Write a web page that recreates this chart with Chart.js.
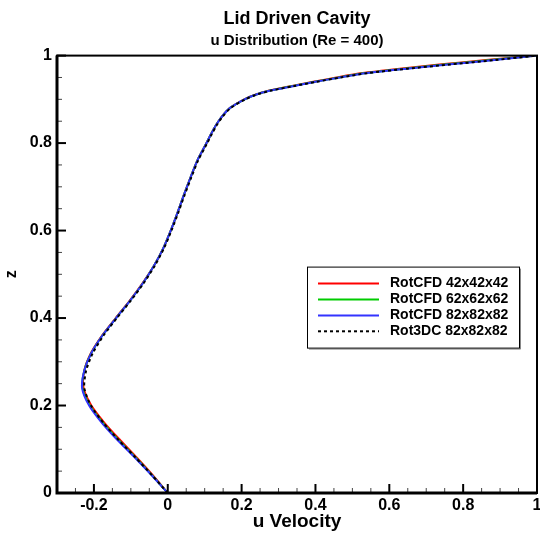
<!DOCTYPE html>
<html>
<head>
<meta charset="utf-8">
<title>Lid Driven Cavity</title>
<script src="https://cdn.jsdelivr.net/npm/chart.js@4.4.1/dist/chart.umd.min.js"></script>
<style>
  html, body { margin: 0; padding: 0; background: #fff; }
  #wrap { width: 540px; height: 540px; }
</style>
</head>
<body>
<div id="wrap"><canvas id="cavityChart"></canvas></div>
<script>
// z positions along the vertical centreline
const zValues = [0, 0.04, 0.08, 0.12, 0.16, 0.20, 0.24, 0.28, 0.32, 0.36, 0.40, 0.44, 0.48, 0.52, 0.56,
                 0.60, 0.64, 0.68, 0.72, 0.76, 0.80, 0.82, 0.84, 0.86, 0.88, 0.90, 0.91, 0.92, 0.93,
                 0.94, 0.95, 0.96, 0.97, 0.98, 0.99, 1];

// u velocity for each grid
const u42 = [0, -0.040, -0.083, -0.128, -0.171, -0.207, -0.228, -0.226, -0.208, -0.178, -0.141, -0.103, -0.068, -0.037, -0.012,
             0.008, 0.026, 0.043, 0.061, 0.080, 0.105, 0.117, 0.130, 0.146, 0.168, 0.207, 0.235, 0.275, 0.333,
             0.394, 0.457, 0.527, 0.628, 0.742, 0.862, 1];
const u62 = [0, -0.042, -0.086, -0.132, -0.175, -0.211, -0.231, -0.226, -0.207, -0.177, -0.140, -0.102, -0.067, -0.037, -0.012,
             0.008, 0.026, 0.043, 0.061, 0.080, 0.105, 0.117, 0.130, 0.146, 0.168, 0.208, 0.236, 0.277, 0.336,
             0.398, 0.463, 0.536, 0.640, 0.755, 0.875, 1];
const u82 = [0, -0.043, -0.088, -0.135, -0.178, -0.213, -0.232, -0.226, -0.207, -0.177, -0.140, -0.102, -0.067, -0.037, -0.012,
             0.008, 0.026, 0.043, 0.061, 0.080, 0.105, 0.117, 0.130, 0.146, 0.168, 0.208, 0.236, 0.278, 0.338,
             0.400, 0.466, 0.540, 0.647, 0.765, 0.885, 1];
const u3dc = [0, -0.042, -0.086, -0.132, -0.174, -0.208, -0.226, -0.221, -0.203, -0.174, -0.138, -0.100, -0.065, -0.035, -0.010,
              0.010, 0.028, 0.045, 0.063, 0.082, 0.107, 0.119, 0.132, 0.148, 0.170, 0.210, 0.238, 0.280, 0.340,
              0.402, 0.468, 0.542, 0.649, 0.768, 0.888, 1];

const seriesLabels = ['RotCFD 42x42x42', 'RotCFD 62x62x62', 'RotCFD 82x82x82', 'Rot3DC 82x82x82'];

const FONT = "'Liberation Sans', Arial, Helvetica, sans-serif";

function toPoints(u) {
    return zValues.map((z, i) => ({x: u[i], y: z}));
}

function isMajor(v) {
    const r = v / 0.2;
    return Math.abs(r - Math.round(r)) < 1e-6;
}

function tickText(v) {
    if (!isMajor(v)) return '';
    return String(Math.round(v * 10) / 10);
}

// frame, inward ticks and the boxed legend
const tecplotStyle = {
    id: 'tecplotStyle',
    afterDraw(chart) {
        const ctx = chart.ctx;
        const area = chart.chartArea;
        const xs = chart.scales.x;
        const ys = chart.scales.y;
        ctx.save();

        // ticks along bottom and left, pointing inward
        xs.ticks.forEach(t => {
            const px = xs.getPixelForValue(t.value);
            const major = isMajor(t.value);
            ctx.beginPath();
            ctx.strokeStyle = major ? '#000' : '#444';
            ctx.lineWidth = major ? 2 : 1;
            ctx.moveTo(px, area.bottom);
            ctx.lineTo(px, area.bottom - (major ? 9 : 5));
            ctx.stroke();
        });
        ys.ticks.forEach(t => {
            const py = ys.getPixelForValue(t.value);
            const major = isMajor(t.value);
            ctx.beginPath();
            ctx.strokeStyle = major ? '#000' : '#444';
            ctx.lineWidth = major ? 2 : 1;
            ctx.moveTo(area.left, py);
            ctx.lineTo(area.left + (major ? 9 : 5), py);
            ctx.stroke();
        });

        // frame
        ctx.strokeStyle = '#000';
        ctx.lineWidth = 2;
        ctx.strokeRect(area.left, area.top, area.right - area.left, area.bottom - area.top);
        ctx.lineWidth = 3;
        ctx.beginPath();
        ctx.moveTo(area.left, area.top);
        ctx.lineTo(area.left, area.bottom);
        ctx.lineTo(area.right, area.bottom);
        ctx.stroke();

        // legend box
        const bx = area.right - 230, by = area.top + 211, bw = 212, bh = 81;
        ctx.fillStyle = '#fff';
        ctx.fillRect(bx, by, bw, bh);
        ctx.strokeStyle = '#888';
        ctx.lineWidth = 1;
        ctx.beginPath();
        ctx.moveTo(bx + bw + 1.5, by + 2);
        ctx.lineTo(bx + bw + 1.5, by + bh + 1.5);
        ctx.lineTo(bx + 2, by + bh + 1.5);
        ctx.stroke();
        ctx.strokeStyle = '#000';
        ctx.strokeRect(bx + 0.5, by + 0.5, bw, bh);

        ctx.font = 'bold 14px ' + FONT;
        ctx.textBaseline = 'middle';
        ctx.textAlign = 'left';
        chart.data.datasets.forEach((ds, i) => {
            const ry = by + 17 + i * 15.9;
            ctx.beginPath();
            ctx.strokeStyle = ds.borderColor;
            ctx.lineWidth = ds.borderWidth;
            ctx.setLineDash(ds.borderDash || []);
            ctx.moveTo(bx + 11, ry);
            ctx.lineTo(bx + 72, ry);
            ctx.stroke();
            ctx.setLineDash([]);
            ctx.fillStyle = '#000';
            ctx.fillText(ds.label, bx + 83, ry);
        });
        ctx.restore();
    }
};

new Chart(document.getElementById('cavityChart').getContext('2d'), {
    type: 'scatter',
    data: {
        datasets: [
            // higher order is drawn first, so the dotted line ends up on top
            {label: seriesLabels[0], data: toPoints(u42), borderColor: '#ff0000', borderWidth: 2, order: 3},
            {label: seriesLabels[1], data: toPoints(u62), borderColor: '#00cc00', borderWidth: 2, order: 2},
            {label: seriesLabels[2], data: toPoints(u82), borderColor: '#3333ff', borderWidth: 2, order: 1},
            {label: seriesLabels[3], data: toPoints(u3dc), borderColor: '#000000', borderWidth: 2, borderDash: [3, 3], order: 0}
        ].map(ds => Object.assign(ds, {showLine: true, pointRadius: 0, tension: 0.25, fill: false}))
    },
    options: {
        responsive: true,
        maintainAspectRatio: false,
        animation: false,
        layout: {padding: 0},
        scales: {
            x: {
                type: 'linear',
                min: -0.3,
                max: 1,
                grid: {display: false, drawTicks: false},
                border: {display: false},
                afterFit: scale => {
                    scale.height = 47;
                    // let the plot run almost to the right edge, like the original
                    scale.paddingRight = 3;
                },
                ticks: {
                    stepSize: 0.05,
                    autoSkip: false,
                    maxRotation: 0,
                    padding: 3,
                    color: '#000',
                    font: {family: FONT, size: 16, weight: 'bold'},
                    callback: v => tickText(v)
                },
                title: {
                    display: true,
                    text: 'u Velocity',
                    color: '#000',
                    font: {family: FONT, size: 19, weight: 'bold'},
                    padding: {top: 0, bottom: 7}
                }
            },
            y: {
                type: 'linear',
                min: 0,
                max: 1,
                grid: {display: false, drawTicks: false},
                border: {display: false},
                afterFit: scale => { scale.width = 57; },
                ticks: {
                    stepSize: 0.05,
                    autoSkip: false,
                    padding: 5,
                    color: '#000',
                    font: {family: FONT, size: 16, weight: 'bold'},
                    callback: v => tickText(v)
                },
                title: {
                    display: true,
                    text: 'z',
                    color: '#000',
                    font: {family: FONT, size: 16, weight: 'bold'},
                    padding: {top: 2, bottom: 0}
                }
            }
        },
        plugins: {
            legend: {display: false},
            tooltip: {enabled: false},
            title: {
                display: true,
                fullSize: false,
                text: 'Lid Driven Cavity',
                color: '#000',
                font: {family: FONT, size: 18, weight: 'bold'},
                padding: {top: 8, bottom: 2}
            },
            subtitle: {
                display: true,
                fullSize: false,
                text: 'u Distribution (Re = 400)',
                color: '#000',
                font: {family: FONT, size: 15, weight: 'bold'},
                padding: {top: 0, bottom: 6}
            }
        }
    },
    plugins: [tecplotStyle]
});
</script>
</body>
</html>
